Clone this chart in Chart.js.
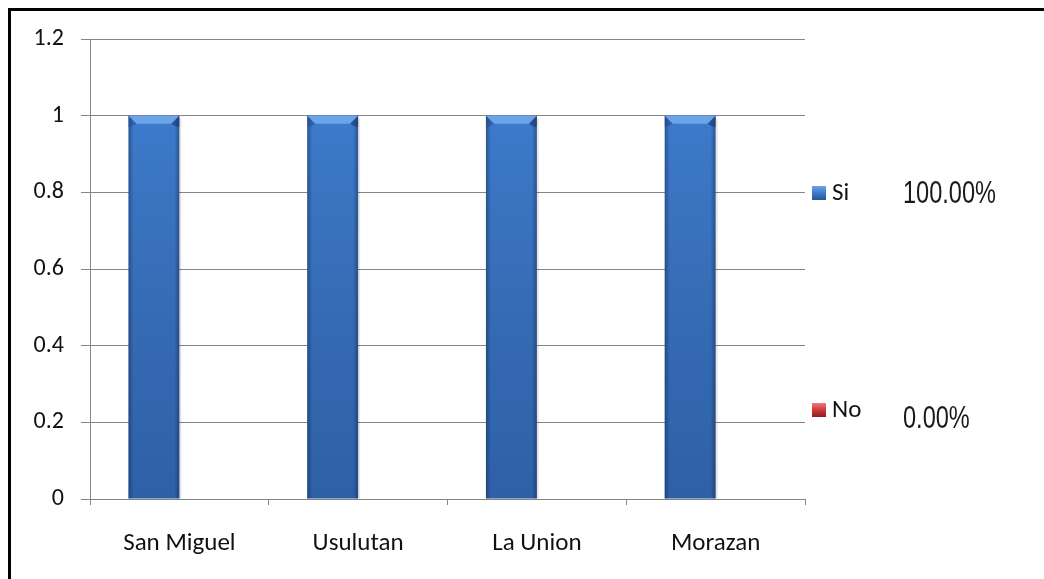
<!DOCTYPE html>
<html><head><meta charset="utf-8">
<script src="https://cdn.jsdelivr.net/npm/chart.js@4/dist/chart.umd.min.js"></script>
<style>
html,body{margin:0;padding:0;background:#fff;}
#wrap{position:relative;width:1044px;height:579px;overflow:hidden;}
#frame{position:absolute;left:8px;top:8px;width:1100px;height:700px;border-top:3px solid #000;border-left:3px solid #000;box-sizing:border-box;pointer-events:none;}
canvas{position:absolute;left:0;top:0;}
</style></head><body>
<div id="wrap"><canvas id="c" width="1044" height="579"></canvas><div id="frame"></div></div>
<script>
const categories = ['San Miguel', 'Usulutan', 'La Union', 'Morazan'];
const siValues = [1, 1, 1, 1];
const noValues = [0, 0, 0, 0];
const seriesNames = ['Si', 'No'];
const percentLabels = ['100.00%', '0.00%'];
const yTicks = [0, 0.2, 0.4, 0.6, 0.8, 1, 1.2];

const FONT = 'Carlito, Lato, "Open Sans", sans-serif';
const CAT_PCT = 0.57;
const palettes = [
  {edge:'#2a5592', mid:'#3d7acb', light:'#6ca4ea', dark:'#244a80'},
  {edge:'#8a1e1e', mid:'#cc3838', light:'#ef7b7b', dark:'#6e1616'}
];

function barGradient(c, x0, x1, p){
  const g = c.createLinearGradient(x0, 0, x1, 0);
  g.addColorStop(0, p.edge);
  g.addColorStop(0.1, p.mid);
  g.addColorStop(0.9, p.mid);
  g.addColorStop(1, p.edge);
  return g;
}

function scriptedColor(ctx){
  const chart = ctx.chart;
  const p = palettes[ctx.datasetIndex];
  const xs = chart.scales && chart.scales.x;
  if (!xs || !chart.chartArea || !isFinite(xs.width) || xs.width <= 0) return p.mid;
  const center = xs.getPixelForValue(ctx.dataIndex);
  const catW = xs.width / categories.length;
  const barW = catW * CAT_PCT / chart.data.datasets.length;
  const x0 = center - catW * CAT_PCT / 2 + ctx.datasetIndex * barW;
  return barGradient(chart.ctx, x0, x0 + barW, p);
}

const barStyle = {
  id:'barStyle',
  afterDatasetsDraw(chart){
    const c = chart.ctx;
    chart.data.datasets.forEach((ds, di)=>{
      const meta = chart.getDatasetMeta(di);
      meta.data.forEach(el=>{
        const h = el.base - el.y;
        if (h < 2) return;
        const x0 = el.x - el.width/2, x1 = el.x + el.width/2, t = el.y;
        const b = Math.min(8, h/2);
        c.save();
        const g = c.createLinearGradient(0, t, 0, el.base);
        g.addColorStop(0, 'rgba(0,0,0,0)');
        g.addColorStop(1, 'rgba(0,20,60,0.25)');
        c.fillStyle = g; c.fillRect(x0, t, x1 - x0, el.base - t);
        c.beginPath();
        c.moveTo(x0, t); c.lineTo(x1, t); c.lineTo(x1 - b, t + b); c.lineTo(x0 + b, t + b); c.closePath();
        c.fillStyle = palettes[di].light; c.fill();
        c.beginPath();
        c.moveTo(x0, t); c.lineTo(x0 + b, t + b); c.lineTo(x0 + 3, t + b + 3); c.lineTo(x0, t + b + 3); c.closePath();
        c.fillStyle = 'rgba(30,70,130,0.45)'; c.fill();
        c.beginPath();
        c.moveTo(x1, t); c.lineTo(x1 - b, t + b); c.lineTo(x1 - 3, t + b + 3); c.lineTo(x1, t + b + 3); c.closePath();
        c.fillStyle = 'rgba(25,55,105,0.6)'; c.fill();
        c.fillStyle = 'rgba(0,0,0,0.10)';
        c.fillRect(x1, t + 3, 2, el.base - t - 3);
        c.restore();
      });
    });
  }
};

const legendPos = [193, 410];
const percentPos = [193, 418];
const customLegend = {
  id:'customLegend',
  afterDraw(chart){
    const c = chart.ctx;
    c.save();
    chart.data.datasets.forEach((ds, di)=>{
      const y = legendPos[di];
      const p = palettes[di];
      const g = c.createLinearGradient(0, y - 7, 0, y + 7);
      g.addColorStop(0, p.light); g.addColorStop(0.5, p.mid); g.addColorStop(1, p.edge);
      c.fillStyle = g;
      c.fillRect(812, y - 7, 14, 14);
      c.fillStyle = '#111';
      c.font = '25px ' + FONT;
      c.textBaseline = 'middle';
      c.textAlign = 'left';
      c.fillText(ds.label, 832, y + 1);
      c.save();
      c.fillStyle = '#1a1a1a';
      c.font = '31px "Liberation Sans", Arial, sans-serif';
      c.translate(903, percentPos[di] + 1);
      c.scale(0.76, 1);
      c.fillText(percentLabels[di], 0, 0);
      c.restore();
    });
    c.restore();
  }
};

new Chart(document.getElementById('c'), {
  type:'bar',
  data:{
    labels: categories,
    datasets:[
      {label: seriesNames[0], data: siValues, backgroundColor: scriptedColor, borderWidth:0},
      {label: seriesNames[1], data: noValues, backgroundColor: scriptedColor, borderWidth:0}
    ]
  },
  options:{
    responsive:false,
    animation:false,
    devicePixelRatio:1,
    layout:{padding:{left:0, right:239, top:39, bottom:0}},
    plugins:{legend:{display:false}, tooltip:{enabled:false}},
    datasets:{bar:{categoryPercentage:CAT_PCT, barPercentage:1}},
    scales:{
      x:{
        grid:{display:true, drawOnChartArea:false, offset:true, tickLength:6, color:'#868686'},
        border:{display:true, color:'#868686', width:1},
        ticks:{color:'#111', font:{family:FONT, size:25}, padding:24},
        afterFit(s){ s.height = 80; }
      },
      y:{
        min:0, max:1.2,
        afterBuildTicks(s){ s.ticks = yTicks.map(v=>({value:v})); },
        grid:{color:'#868686', tickLength:9, drawTicks:true},
        border:{display:true, color:'#868686', width:1},
        ticks:{color:'#111', font:{family:FONT, size:24}, padding:17, callback:v=>String(v)},
        afterFit(s){ s.width = 90; }
      }
    }
  },
  plugins:[barStyle, customLegend]
});
</script>
</body></html>
